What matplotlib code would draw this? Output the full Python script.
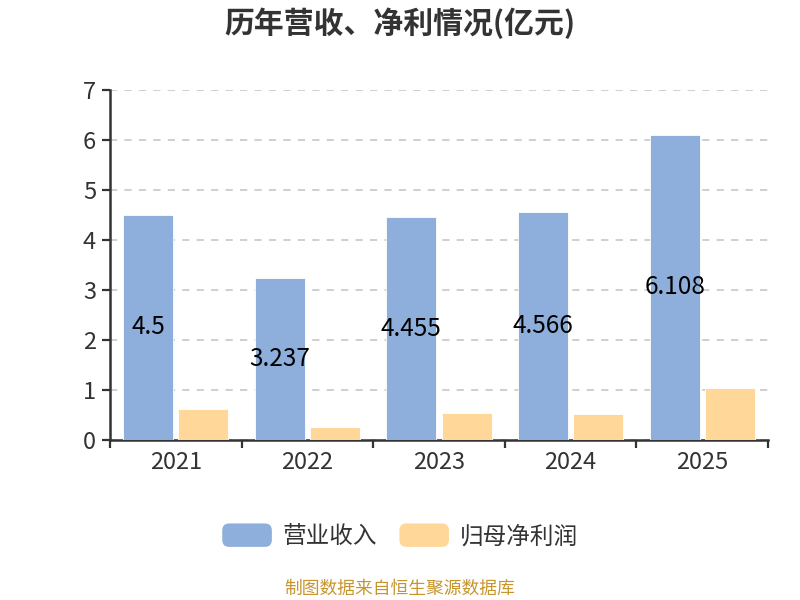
import matplotlib
matplotlib.use("Agg")
import numpy as np
import matplotlib.pyplot as plt
from matplotlib.patches import FancyBboxPatch, Rectangle
from matplotlib.legend_handler import HandlerPatch

plt.rcParams['font.family'] = ['Noto Sans CJK SC', 'DejaVu Sans']

years = ['2021', '2022', '2023', '2024', '2025']
revenue = [4.5, 3.237, 4.455, 4.566, 6.108]
net_profit = [0.61, 0.26, 0.54, 0.51, 1.04]

BLUE = '#8eaedb'
ORANGE = '#ffd899'
DARK = '#333333'


class RoundHandler(HandlerPatch):
    def create_artists(self, legend, orig_handle, xdescent, ydescent,
                       width, height, fontsize, trans):
        p = FancyBboxPatch((-xdescent, -ydescent), width, height,
                           boxstyle='round,pad=0,rounding_size=5',
                           facecolor=orig_handle.get_facecolor(),
                           edgecolor='none', transform=trans)
        return [p]


fig = plt.figure(figsize=(8, 6), dpi=100)
ax = fig.add_axes([0.1375, 0.2667, 0.8225, 0.5833])

x = np.arange(len(years))
w = 0.38
b1 = ax.bar(x - 0.21, revenue, w, color=BLUE, edgecolor='white', linewidth=0.6,
            label='营业收入', zorder=3)
b2 = ax.bar(x + 0.21, net_profit, w, color=ORANGE, edgecolor='white', linewidth=0.6,
            label='归母净利润', zorder=3)

for rect, v in zip(b1, revenue):
    ax.text(rect.get_x() + rect.get_width() / 2, v / 2, f'{v:g}',
            ha='center', va='center', fontsize=17.5, color='black', zorder=4)

ax.set_xlim(-0.5, 4.5)
ax.set_ylim(0, 7)
ax.set_yticks(range(0, 8))
ax.grid(axis='y', color='#cccccc', linestyle=(0, (4, 4)), linewidth=1.3, zorder=0)

ax.set_xticks(np.arange(-0.5, 5, 1))
ax.set_xticklabels([])
ax.set_xticks(x, minor=True)
ax.set_xticklabels(years, minor=True)
ax.tick_params(axis='x', which='major', length=6, width=1.6, color=DARK)
ax.tick_params(axis='x', which='minor', length=0, pad=8, labelsize=17, labelcolor=DARK)
ax.tick_params(axis='y', length=6, width=1.6, color=DARK, labelsize=17,
               labelcolor=DARK, pad=4)

for s in ['top', 'right']:
    ax.spines[s].set_visible(False)
for s in ['left', 'bottom']:
    ax.spines[s].set_color(DARK)
    ax.spines[s].set_linewidth(1.8)

fig.text(0.5, 0.962, '历年营收、净利情况(亿元)', ha='center', va='center',
         fontsize=21.5, fontweight='bold', color=DARK)

fig.legend(handles=[b1.patches[0], b2.patches[0]], labels=['营业收入', '归母净利润'],
           loc='center', bbox_to_anchor=(0.5, 0.107),
           ncol=2, frameon=False, fontsize=17, handlelength=2.1,
           handleheight=1.15, handletextpad=0.45, columnspacing=0.95,
           labelcolor=DARK,
           handler_map={Rectangle: RoundHandler()})

fig.text(0.5, 0.018, '制图数据来自恒生聚源数据库', ha='center', va='center',
         fontsize=12.8, color='#c8952c')

fig.savefig('out.png', dpi=100)
